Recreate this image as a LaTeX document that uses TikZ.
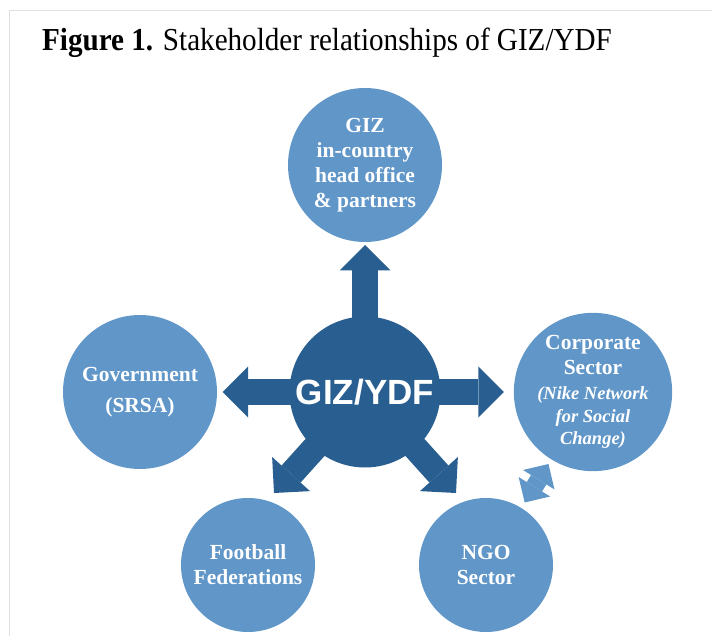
\documentclass[tikz,border=0pt]{standalone}
\usepackage{fontspec}
\setmainfont{Liberation Serif}
\newfontfamily\hubfont{Liberation Sans}
\newfontfamily\titlefont{Liberation Serif}[FakeStretch=0.91]
\usetikzlibrary{arrows.meta,backgrounds}
\definecolor{circle-blue}{HTML}{6196C9}
\definecolor{hub-blue}{HTML}{295E91}
\definecolor{frame-gray}{HTML}{E0E0E0}
\newcommand{\nike}[1]{{\itshape\fontsize{18.5}{22.5}\selectfont #1}}

\begin{document}
\begin{tikzpicture}[x=1pt, y=-1pt,
    stakeholder/.style={circle, fill=circle-blue, inner sep=0pt, outer sep=0pt,
      text=white, align=center, font=\bfseries\fontsize{21.5}{25}\selectfont},
    spoke/.style={hub-blue, line width=25.5pt,
      -{Triangle[width=51pt,length=25.5pt,line width=0pt]}},
    link/.style={circle-blue, line width=18pt,
      {Triangle[width=37pt,length=18.5pt,line width=0pt]}-{Triangle[width=37pt,length=18.5pt,line width=0pt]}}]
  \useasboundingbox (0,0) rectangle (712,636);
  \draw[frame-gray, line width=1.5pt] (712,10.5) -- (9.5,10.5) -- (9.5,636);
  \node[anchor=base west, inner sep=0pt, font=\titlefont\fontsize{32}{38}\selectfont] (title) at (42,51)
    {\textbf{Figure 1.} Stakeholder relationships of GIZ/YDF};
  \node[circle, fill=hub-blue, minimum size=151pt, inner sep=0pt, outer sep=0pt, text=white,
    font=\hubfont\bfseries\fontsize{35}{40}\selectfont] (hub) at (365,392) {GIZ/YDF};
  \node[stakeholder, minimum size=154pt] (giz) at (365,165)
    {GIZ\\in-country\\head office\\\& partners};
  \node[stakeholder, minimum size=154pt] (gov) at (140,392) {Government\\[6pt](SRSA)};
  \node[stakeholder, minimum size=152pt] (corp) at (593,392)
    {Corporate\\Sector\\\nike{(Nike Network}\\[-2.5pt]\nike{for Social}\\[-2.5pt]\nike{Change)}};
  \node[stakeholder, minimum size=134pt] (fed) at (248,565) {Football\\Federations};
  \node[stakeholder, minimum size=134pt] (ngo) at (486,565) {NGO\\Sector};
  \coordinate (tipSW) at (274,493);
  \coordinate (tipSE) at (456,493);
  \begin{scope}[on background layer]
    \draw[spoke, shorten >=3pt] (hub.center) -- (giz);
    \draw[spoke, shorten >=5.5pt] (hub.center) -- (gov);
    \draw[spoke, shorten >=10pt] (hub.center) -- (corp);
    \draw[spoke] (hub.center) -- (tipSW);
    \draw[spoke] (hub.center) -- (tipSE);
  \end{scope}
  \draw[link, shorten <=5.5pt, shorten >=6.5pt] (corp) -- (ngo);
\end{tikzpicture}
\end{document}
